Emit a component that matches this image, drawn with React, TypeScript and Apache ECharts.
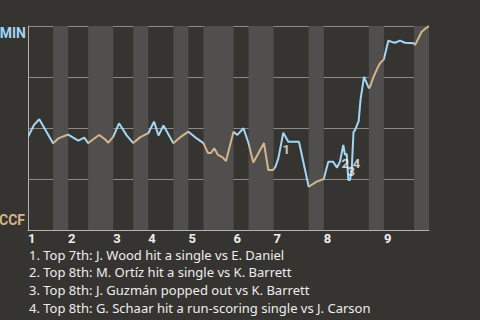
import React, { useEffect, useRef } from "react";
import * as echarts from "echarts";

// Half-inning boundaries (play-sequence units), top of 1st .. bottom of 9th
const halfBounds = [0, 5, 8, 12, 17, 21, 24, 29, 32, 35, 41, 44, 49, 56, 59, 68, 71, 77, 80];
const inningLabels = ["1", "2", "3", "4", "5", "6", "7", "8", "9"];

// Play sequence position and MIN win probability
const playX = [
  0, 1.2, 2.25, 5, 6.05, 8, 10.03, 11.23, 12, 13.03, 14.16, 15.36, 16.02, 17, 18.15, 19.69, 21,
  22.34, 23.68, 24, 25.14, 26.03, 27.03, 29, 30.32, 32, 33.66, 35, 35.91, 36.51, 37.17, 37.91,
  38.84, 39.5, 41, 41.76, 42.99, 44, 44.95, 47.08, 47.94, 48.9, 49.38, 49.94, 50.93, 51.93, 54.06,
  56, 57.6, 59, 59.91, 60.85, 61.65, 62.25, 62.9, 63.24, 63.58, 63.9, 64.24, 64.58, 64.94, 65.24,
  65.97, 66.33, 67.03, 68, 68.23, 68.89, 69.63, 70.23, 71, 71.88, 72.62, 73.22, 74.21, 75.21, 77,
  77.21, 77.55, 78.54, 79.2, 80,
];
const winProb = [
  0.457, 0.515, 0.543, 0.425, 0.449, 0.468, 0.438, 0.453, 0.426, 0.445, 0.466, 0.445, 0.428, 0.457,
  0.523, 0.464, 0.426, 0.454, 0.471, 0.474, 0.531, 0.463, 0.512, 0.425, 0.454, 0.482, 0.449, 0.426,
  0.377, 0.378, 0.4, 0.368, 0.356, 0.338, 0.482, 0.466, 0.499, 0.425, 0.331, 0.426, 0.294, 0.294,
  0.311, 0.351, 0.477, 0.433, 0.433, 0.212, 0.237, 0.25, 0.335, 0.335, 0.306, 0.335, 0.417, 0.368,
  0.373, 0.245, 0.245, 0.294, 0.48, 0.49, 0.534, 0.637, 0.751, 0.695, 0.701, 0.748, 0.789, 0.817,
  0.837, 0.928, 0.922, 0.918, 0.928, 0.918, 0.915, 0.907, 0.923, 0.972, 0.985, 1.0,
];

// Key events: index into the play list
const eventIdx = [44, 54, 57, 60];
const eventNames = ["1", "2", "3", "4"];
const eventTexts = [
  "1. Top 7th: J. Wood hit a single vs E. Daniel",
  "2. Top 8th: M. Ortíz hit a single vs K. Barrett",
  "3. Top 8th: J. Guzmán popped out vs K. Barrett",
  "4. Top 8th: G. Schaar hit a run-scoring single vs J. Carson",
];
const teamTop = "MIN";
const teamBottom = "CCF";

// styling
const labelOffsets = [
  [3, 17],
  [2, 19],
  [3, -9],
  [3, 31],
];
const BLUE = "#a3d6f3";
const TAN = "#d3b48b";
const BG = "#363431";
const BAND = "#514f4d";

export default function App() {
  const ref = useRef<HTMLDivElement>(null);
  useEffect(() => {
    if (!ref.current) return;
    const chart = echarts.init(ref.current, undefined, { renderer: "svg" });

    const pieces: any[] = [];
    const bands: any[] = [];
    for (let i = 0; i < halfBounds.length - 1; i++) {
      const top = i % 2 === 0;
      const piece: any = { gte: halfBounds[i], color: top ? BLUE : TAN };
      if (i === halfBounds.length - 2) piece.lte = halfBounds[i + 1];
      else piece.lt = halfBounds[i + 1];
      pieces.push(piece);
      if (!top) bands.push([{ xAxis: halfBounds[i] }, { xAxis: halfBounds[i + 1] }]);
    }
    const inningStarts = halfBounds.filter((_, i) => i % 2 === 0 && i < halfBounds.length - 1);

    const lineData = playX.map((x, i) => [x, winProb[i]]);
    const eventData = eventIdx.map((k, j) => ({
      value: [playX[k], winProb[k]],
      label: { formatter: eventNames[j], offset: labelOffsets[j] },
    }));

    const legendTexts = eventTexts.map((t, i) => ({
      type: "text",
      left: 29,
      top: 248 + i * 17.7,
      style: { text: t, fill: "#eeeeee", font: "13px 'Noto Sans'", lineHeight: 13 },
    }));

    chart.setOption({
      animation: false,
      backgroundColor: BG,
      grid: { left: 28, right: 51, top: 26, bottom: 90 },
      xAxis: {
        type: "value",
        min: 0,
        max: 80,
        axisLine: { show: true, lineStyle: { color: "#b4b2b0", width: 1 } },
        axisTick: { show: false },
        splitLine: { show: false },
        axisLabel: {
          customValues: inningStarts,
          formatter: (v: number) => inningLabels[inningStarts.indexOf(v)] ?? "",
          align: "left",
          margin: 2,
          color: "#eeeeee",
          fontFamily: "Roboto",
          fontWeight: "bold",
          fontSize: 13,
          lineHeight: 13,
        },
      },
      yAxis: {
        type: "value",
        min: 0,
        max: 1,
        interval: 0.25,
        axisLine: { show: true, lineStyle: { color: "#b4b2b0", width: 1 } },
        axisTick: { show: false },
        axisLabel: { show: false },
        splitLine: { show: true, lineStyle: { color: "#8c8a88", width: 1 } },
      },
      visualMap: {
        type: "piecewise",
        show: false,
        dimension: 0,
        seriesIndex: 0,
        pieces,
      },
      series: [
        {
          type: "line",
          data: lineData,
          showSymbol: false,
          symbol: "none",
          lineStyle: { width: 2 },
          z: 3,
          markArea: {
            silent: true,
            itemStyle: { color: BAND, opacity: 1 },
            data: bands,
          },
        },
        {
          type: "scatter",
          data: eventData,
          symbolSize: 1,
          itemStyle: { color: "rgba(0,0,0,0)" },
          z: 4,
          label: {
            show: true,
            position: "inside",
            color: "#f4f4f4",
            fontFamily: "Roboto",
            fontWeight: "bold",
            fontSize: 13,
          },
        },
      ],
      graphic: [
        {
          type: "text",
          right: 454,
          top: 26,
          style: { text: teamTop, fill: BLUE, font: "bold 14px Roboto" },
        },
        {
          type: "text",
          right: 455,
          top: 213,
          style: { text: teamBottom, fill: TAN, font: "bold 14px Roboto" },
        },
        ...legendTexts,
      ],
    });
    return () => chart.dispose();
  }, []);
  return (
    <div
      ref={ref}
      style={{ position: "fixed", left: 0, top: 0, width: 480, height: 320 }}
    />
  );
}
